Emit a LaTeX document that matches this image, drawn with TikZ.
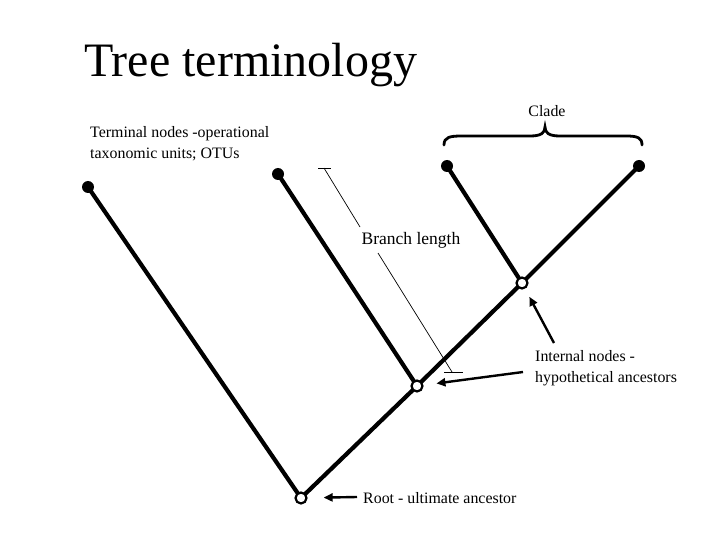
\documentclass[tikz,border=0pt]{standalone}
\usepackage{fontspec}
\setmainfont{Liberation Serif}
\usetikzlibrary{arrows.meta}
\begin{document}
\begin{tikzpicture}[x=1pt,y=-1pt,
  leaf/.style={circle,fill=black,inner sep=0pt,minimum size=12pt},
  inner/.style={circle,draw=black,fill=white,line width=2.2pt,inner sep=0pt,minimum size=11pt},
  branch/.style={line width=4.2pt},
  lbl/.style={font=\fontsize{15.9}{21}\selectfont,align=left,inner sep=0pt},
  pointer/.style={line width=2.4pt,-{Triangle[length=9pt,width=8pt]}},
  thin/.style={line width=0.7pt}]
\useasboundingbox[fill=white] (0,0) rectangle (720,540);
% title
\node[anchor=base west,inner sep=0pt,font=\fontsize{48}{50}\selectfont] (title) at (84,77) {Tree terminology};
% nodes
\coordinate (Apos) at (88,187);
\coordinate (Bpos) at (278,174);
\coordinate (Cpos) at (447,166);
\coordinate (Dpos) at (639,166);
\coordinate (I2pos) at (522,283);
\coordinate (I1pos) at (417,386);
\coordinate (Rpos) at (301,498);
\draw[branch] (Apos) -- (Rpos) -- (I1pos) -- (I2pos) -- (Dpos);
\draw[branch] (Bpos) -- (I1pos);
\draw[branch] (Cpos) -- (I2pos);
\node[leaf] (A) at (Apos) {};
\node[leaf] (B) at (Bpos) {};
\node[leaf] (C) at (Cpos) {};
\node[leaf] (D) at (Dpos) {};
\node[inner] (I2) at (I2pos) {};
\node[inner] (I1) at (I1pos) {};
\node[inner] (R) at (Rpos) {};
% clade brace
\draw[line width=2.8pt,line cap=round] (444,145) .. controls (444,137) and (450,136) .. (462,136) -- (530,136) .. controls (541,136) and (545,133) .. (545,127) .. controls (545,133) and (549,136) .. (560,136) -- (626,136) .. controls (638,136) and (642,138) .. (642,145);
\node[lbl,anchor=base] (clade) at (547,117) {Clade};
% terminal label
\node[lbl,anchor=base west] (term) at (90,138) {Terminal nodes -operational};
\node[lbl,anchor=base west] (term2) at (90,159) {taxonomic units; OTUs};
% branch length
\node[anchor=center,inner sep=1pt,font=\fontsize{17.5}{20}\selectfont] (bl) at (411,240) {Branch length};
\coordinate (blt) at (324,168);
\coordinate (blb) at (452,372);
\draw[thin] (318,168) -- (331,168);
\draw[thin] (444,372) -- (463,372);
\draw[thin] (blt) -- (360,227);
\draw[thin] (378,253) -- (blb);
% internal nodes label
\node[lbl,anchor=base west] (intl) at (535,361) {Internal nodes -};
\node[lbl,anchor=base west] (intl2) at (535,382) {hypothetical ancestors};
\coordinate (p1) at (554,343);
\coordinate (p2) at (523,372);
\draw[pointer,shorten >=9pt] (p1) -- (I2);
\draw[pointer,shorten >=13pt] (p2) -- (I1);
% root label
\node[lbl,anchor=base west] (root) at (363,503) {Root - ultimate ancestor};
\coordinate (p3) at (357,497);
\draw[pointer,shorten >=16pt] (p3) -- (R);
\end{tikzpicture}
\end{document}
